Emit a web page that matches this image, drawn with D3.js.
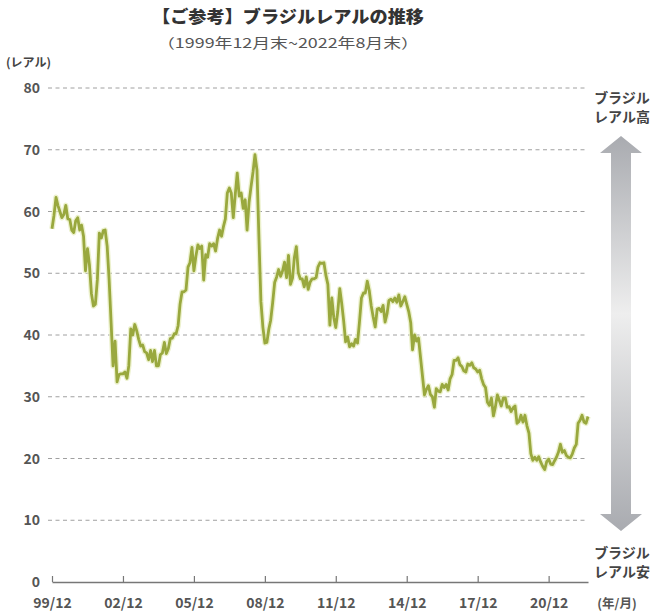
<!DOCTYPE html>
<html><head><meta charset="utf-8">
<script src="https://cdn.jsdelivr.net/npm/d3@7"></script>
<style>
html,body{margin:0;padding:0;background:#fff;}
svg{display:block;font-family:"Noto Sans CJK JP","Noto Sans",sans-serif;}
</style></head>
<body>
<svg id="chart" width="657" height="615"></svg>
<script>
// ---- data ----
const titleText = "【ご参考】ブラジルレアルの推移";
const subtitleText = "（1999年12月末~2022年8月末）";
const unitText = "(レアル)";
const startMonth = "1999-12";
// monthly month-end values (JPY per BRL), 1999/12 .. 2022/08
const values = [
  57.2,
  59.4, 62.3, 61, 60, 59, 59.5, 61, 58.8, 58.7, 57, 56.6, 58.5,
  59, 57, 57.8, 56, 50.4, 54, 51.4, 46.7, 44.7, 45, 49, 56.5,
  55.7, 56.9, 57, 54.4, 49, 42, 35, 39, 32.4, 33.6, 33.7, 33.7,
  34, 33, 35, 41, 40, 41.7, 40.7, 39.3, 38.2, 38.4, 37.3, 37.1,
  36, 37.5, 35.7, 37.5, 35, 35, 36.8, 37.1, 38.8, 37, 37.8, 39.4,
  39.5, 40.2, 40.2, 41.5, 45, 47, 47, 47.3, 51, 51.7, 54.2, 50.4,
  52.8, 54.6, 54, 54.4, 48.9, 53, 52.6, 54.8, 54.4, 54.8, 53.6, 55.6,
  57, 56, 57.5, 58.8, 63, 63.8, 63, 59, 62.8, 66.2, 62.5, 63,
  60.5, 61.9, 57, 61.5, 64, 66.4, 69.2, 66.7, 55.5, 45.4, 41.2, 38.7,
  38.8, 41, 42.4, 45.3, 48.5, 49.4, 50.6, 49.5, 50.4, 51.8, 49.3, 52.9,
  48.2, 49.2, 52.5, 54.3, 50.1, 49.1, 49.1, 47.8, 49.4, 47.4, 48.6, 49.1,
  49.1, 49.3, 51, 51.7, 51.6, 51.7, 49.7, 48.2, 41.6, 46, 42.8, 41.2,
  43.8, 47.5, 45.2, 42.3, 38.9, 39.7, 38.1, 38.6, 38.2, 39.3, 38.7, 42.1,
  46, 46.8, 46.8, 48.7, 47.2, 44.7, 42.9, 41.3, 44.2, 44.3, 43.8, 44.8,
  42.1, 43.5, 45.6, 45.8, 45.4, 46, 45.3, 46.5, 44.7, 45.4, 46.2, 45,
  43.8, 42, 37.6, 40, 39, 39.5, 36.5, 33.4, 30.3, 31.2, 31.8, 30.4,
  30, 28.3, 31.3, 30.9, 30.8, 32, 31.5, 32, 31.1, 32.9, 33.6, 35.9,
  35.9, 36.3, 35.2, 34.9, 34.2, 34, 35.3, 35.1, 35.5, 34.7, 34.5, 34,
  34.3, 32.9, 32, 31.5, 29.1, 28.6, 29.8, 26.9, 28.4, 30.3, 29.4, 28.5,
  29.8, 29.8, 28.3, 28.4, 27.6, 28.2, 28.5, 25.7, 26, 27, 25.9, 27,
  25.3, 24.1, 20.8, 19.7, 20.2, 19.7, 20.3, 19.4, 18.7, 18.2, 19.5, 19.9,
  19.1, 19, 19.6, 20.2, 21, 22.3, 21, 21.3, 20.5, 20.2, 20.1, 20.7,
  21.7, 22.3, 25.7, 26.2, 27, 25.9, 25.7, 26.8
];
const xTickMonths = ["1999-12","2002-12","2005-12","2008-12","2011-12","2014-12","2017-12","2020-12"];
const xTickLabels = ["99/12","02/12","05/12","08/12","11/12","14/12","17/12","20/12"];
const yTicks = [0,10,20,30,40,50,60,70,80];
const xUnitText = "(年/月)";
const arrowTopLabel = ["ブラジル","レアル高"];
const arrowBottomLabel = ["ブラジル","レアル安"];

// ---- build ----
const parseM = d3.timeParse("%Y-%m");
const t0 = parseM(startMonth);
const data = values.map((v,i)=>({date:d3.timeMonth.offset(t0,i), value:v}));

const svg = d3.select("#chart");
const x = d3.scaleTime().domain([t0, data[data.length-1].date]).range([52, 588]);
const y = d3.scaleLinear().domain([0,80]).range([582, 88]);

// title
svg.append("text").attr("x",288).attr("y",23).attr("text-anchor","middle")
  .attr("font-size",17).attr("font-weight","900").attr("fill","#333")
  .attr("textLength",272).attr("lengthAdjust","spacingAndGlyphs").text(titleText);
svg.append("text").attr("x",288).attr("y",48).attr("text-anchor","middle")
  .attr("font-size",13.5).attr("fill","#555")
  .attr("textLength",262).attr("lengthAdjust","spacingAndGlyphs").text(subtitleText);
svg.append("text").attr("x",6).attr("y",67)
  .attr("font-size",12).attr("font-weight","bold").attr("fill","#444").text(unitText);

// gridlines
svg.append("g").selectAll("line").data(yTicks.filter(d=>d>0)).join("line")
  .attr("x1",48).attr("x2",588)
  .attr("y1",d=>y(d)).attr("y2",d=>y(d))
  .attr("stroke","#a0a0a0").attr("stroke-width",1).attr("stroke-dasharray","4,3.5");

// y labels
svg.append("g").selectAll("text").data(yTicks).join("text")
  .attr("x",40).attr("y",d=>y(d)).attr("dy","0.36em").attr("text-anchor","end")
  .attr("font-size",14).attr("font-weight","bold").attr("fill","#555")
  .text(d=>d);

// x axis
const xAxis = d3.axisBottom(x)
  .tickValues(xTickMonths.map(parseM))
  .tickFormat((d,i)=>xTickLabels[i])
  .tickSizeInner(-6).tickSizeOuter(0).tickPadding(16);
const gx = svg.append("g").attr("transform",`translate(0,${y(0)})`).call(xAxis);
gx.select(".domain").attr("stroke","#777").attr("stroke-width",1.6);
gx.selectAll(".tick line").attr("stroke","#777").attr("stroke-width",1.2);
gx.selectAll(".tick text").attr("font-size",14).attr("font-weight","bold")
  .attr("fill","#555").attr("font-family","'Noto Sans CJK JP','Noto Sans',sans-serif");
svg.append("text").attr("x",617).attr("y",608).attr("text-anchor","middle")
  .attr("font-size",12.5).attr("font-weight","bold").attr("fill","#555").text(xUnitText);

// line
const line = d3.line().x(d=>x(d.date)).y(d=>y(d.value));
svg.append("path").datum(data).attr("d",line).attr("fill","none")
  .attr("stroke","#e4ebb8").attr("stroke-width",5.5).attr("stroke-linejoin","round").attr("opacity",0.7);
svg.append("path").datum(data).attr("d",line).attr("fill","none")
  .attr("stroke","#99a83e").attr("stroke-width",2.8).attr("stroke-linejoin","round");

// arrow
const defs = svg.append("defs");
const grad = defs.append("linearGradient").attr("id","ag").attr("x1",0).attr("y1",0).attr("x2",0).attr("y2",1);
grad.append("stop").attr("offset","0%").attr("stop-color","#a9abb0");
grad.append("stop").attr("offset","45%").attr("stop-color","#eeeeee");
grad.append("stop").attr("offset","100%").attr("stop-color","#a9abb0");
const aCx = 621, aTop = 136, aBot = 531, aHh = 17, aHw = 21, aSw = 10;
const ap = `M${aCx},${aTop} L${aCx+aHw},${aTop+aHh} L${aCx+aSw},${aTop+aHh} L${aCx+aSw},${aBot-aHh} L${aCx+aHw},${aBot-aHh} L${aCx},${aBot} L${aCx-aHw},${aBot-aHh} L${aCx-aSw},${aBot-aHh} L${aCx-aSw},${aTop+aHh} L${aCx-aHw},${aTop+aHh} Z`;
svg.append("path").attr("d",ap).attr("fill","url(#ag)");

svg.append("g").selectAll("text").data(arrowTopLabel).join("text")
  .attr("x",622).attr("y",(d,i)=>103+i*19).attr("text-anchor","middle")
  .attr("font-size",14).attr("font-weight","bold").attr("fill","#444").text(d=>d);
svg.append("g").selectAll("text").data(arrowBottomLabel).join("text")
  .attr("x",622).attr("y",(d,i)=>558+i*19).attr("text-anchor","middle")
  .attr("font-size",14).attr("font-weight","bold").attr("fill","#444").text(d=>d);
</script>
</body></html>
